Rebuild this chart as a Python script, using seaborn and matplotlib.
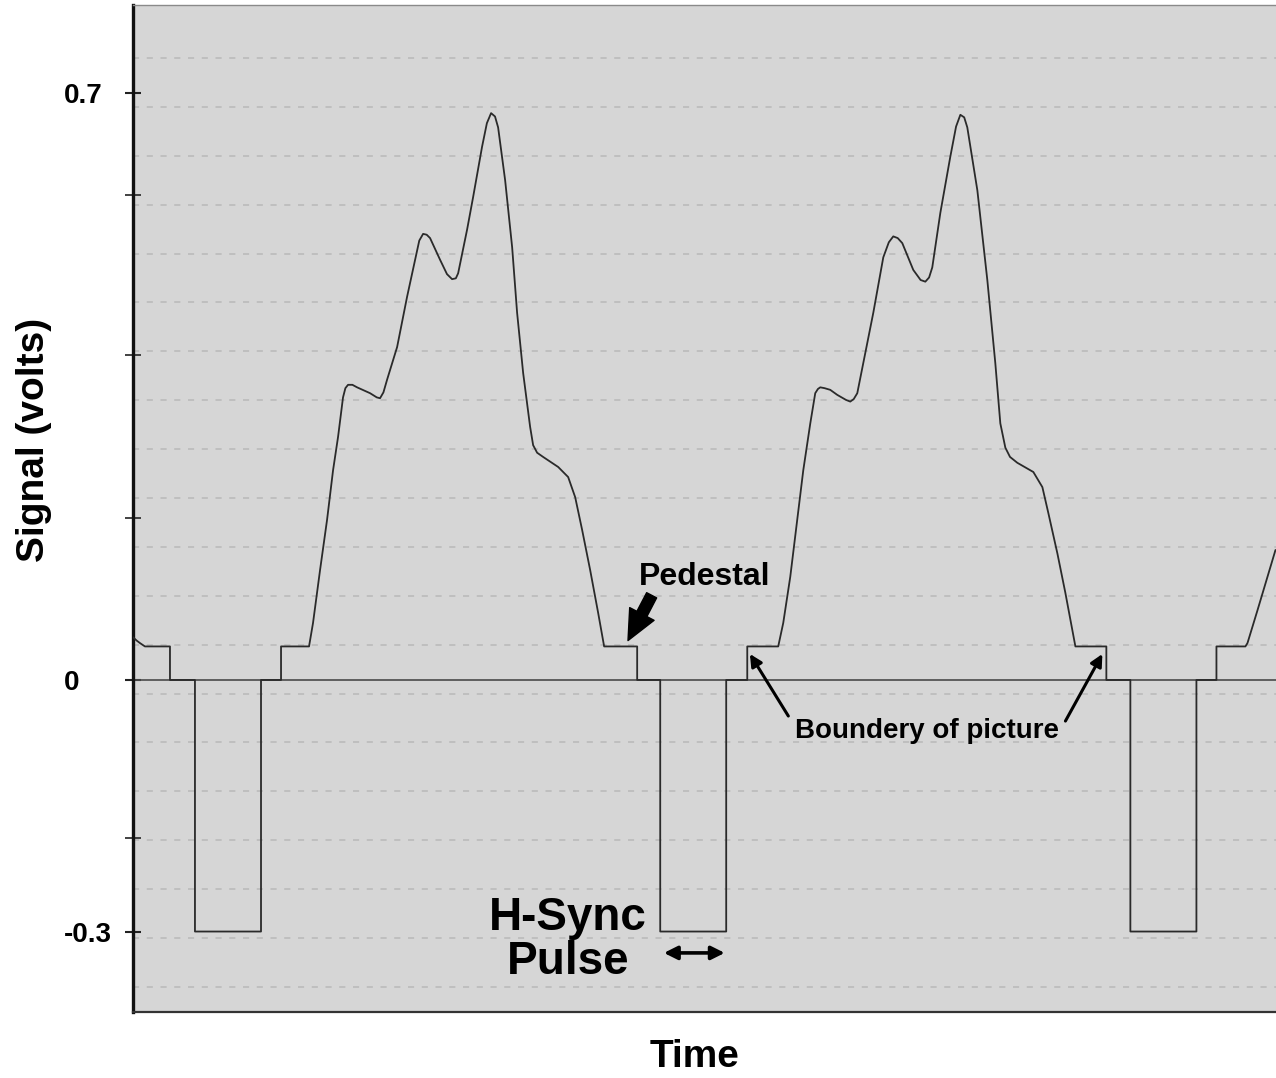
import numpy as np
import pandas as pd
import matplotlib
matplotlib.use("Agg")
import matplotlib.pyplot as plt
import seaborn as sns

# ---- Composite video levels (volts) ----
SYNC_LEVEL = -0.30
BLANK_LEVEL = 0.0
PEDESTAL_LEVEL = 0.04

# ---- Horizontal blanking edges for each line (microseconds) ----
porch_end = [5.01, 68.24, 131.74]          # pedestal steps down to blanking
sync_start = [8.39, 71.36, 134.99]         # falling edge of H-sync
sync_end = [17.33, 80.29, 143.93]          # rising edge of H-sync
back_porch_start = [20.04, 83.14, 146.64]  # blanking steps up to pedestal

# ---- Active picture segments (time in microseconds, signal in volts) ----
pic0_t = [0.0, 0.5, 0.95, 1.62]
pic0_v = [0.051, 0.047, 0.044, 0.040]

pic1_t = [23.83, 24.37, 25.32, 26.27, 27.08, 27.76, 28.43, 28.75, 29.11, 29.70,
          30.33, 32.09, 33.00, 33.44, 33.90, 34.39, 35.75, 37.10, 38.18, 38.75,
          39.27, 39.75, 40.21, 41.57, 42.50, 43.19, 43.70, 44.01, 45.22, 46.04,
          47.25, 47.90, 48.47, 49.00, 49.42, 50.37, 51.32, 51.99, 52.81, 53.75,
          54.16, 54.70, 55.51, 57.55, 58.90, 59.85, 60.79, 61.88, 62.96, 63.77]
pic1_v = [0.040, 0.068, 0.131, 0.191, 0.250, 0.290, 0.337, 0.348, 0.352, 0.352,
          0.349, 0.342, 0.337, 0.336, 0.343, 0.358, 0.397, 0.457, 0.501, 0.524,
          0.532, 0.531, 0.527, 0.501, 0.484, 0.478, 0.479, 0.485, 0.537, 0.576,
          0.636, 0.664, 0.676, 0.672, 0.659, 0.596, 0.516, 0.438, 0.366, 0.302,
          0.280, 0.271, 0.266, 0.254, 0.242, 0.218, 0.179, 0.131, 0.080, 0.040]

pic2_t = [87.33, 88.01, 88.96, 89.91, 90.72, 91.67, 92.34, 92.70, 93.02, 93.60,
          94.37, 95.32, 96.50, 97.08, 97.55, 98.03, 98.84, 100.20, 101.55, 102.30,
          102.90, 103.50, 104.12, 105.61, 106.60, 107.24, 107.75, 108.18, 109.27, 110.62,
          111.40, 111.98, 112.50, 112.92, 114.28, 115.63, 116.71, 117.39, 118.07, 118.70,
          119.69, 121.86, 123.08, 123.89, 125.11, 126.19, 127.55]
pic2_v = [0.040, 0.068, 0.123, 0.191, 0.250, 0.306, 0.342, 0.347, 0.349, 0.348,
          0.346, 0.340, 0.334, 0.332, 0.335, 0.342, 0.378, 0.438, 0.504, 0.522,
          0.529, 0.527, 0.521, 0.489, 0.477, 0.475, 0.480, 0.492, 0.557, 0.624,
          0.660, 0.674, 0.671, 0.659, 0.584, 0.477, 0.378, 0.306, 0.277, 0.266,
          0.259, 0.248, 0.230, 0.199, 0.151, 0.104, 0.040]

pic3_t = [150.56, 150.84, 152.19, 153.54, 154.63]
pic3_v = [0.040, 0.044, 0.083, 0.123, 0.155]

# ---- Axis ticks ----
major_ticks = [0.7, 0.0, -0.3]
major_labels = ["0.7", "0", "-0.3"]
minor_ticks = [0.578, 0.388, 0.193, -0.188]

# Assemble the full trace: picture, front porch, sync, back porch, picture ...
pictures = [(pic0_t, pic0_v), (pic1_t, pic1_v), (pic2_t, pic2_v), (pic3_t, pic3_v)]
t_all, v_all = [], []
for i, (pt, pv) in enumerate(pictures):
    t_all += pt
    v_all += pv
    if i < len(porch_end):
        t_all += [porch_end[i], porch_end[i], sync_start[i], sync_start[i],
                  sync_end[i], sync_end[i], back_porch_start[i], back_porch_start[i]]
        v_all += [PEDESTAL_LEVEL, BLANK_LEVEL, BLANK_LEVEL, SYNC_LEVEL,
                  SYNC_LEVEL, BLANK_LEVEL, BLANK_LEVEL, PEDESTAL_LEVEL]
trace = pd.DataFrame({"time": t_all, "signal": v_all})

sns.set_theme(style="white")
plt.rcParams["font.family"] = ["Liberation Sans", "DejaVu Sans"]
plt.rcParams["text.color"] = "black"
plt.rcParams["axes.labelcolor"] = "black"
plt.rcParams["ytick.color"] = "black"

fig = plt.figure(figsize=(12.76, 10.78), dpi=100)
ax = fig.add_axes([0.1042, 0.0612, 0.8958, 0.9342])
ax.set_facecolor("#d6d6d6")

# faint dashed graph-paper lines
for g in np.arange(0.7417, -0.40, -0.0583):
    ax.axhline(g, color="#b8b8b8", lw=1.1, ls=(0, (4, 5)), zorder=1)

# blanking reference line
ax.axhline(BLANK_LEVEL, color="#4a4a4a", lw=1.2, zorder=2)

line_kw = dict(solid_joinstyle="round", solid_capstyle="round")
sns.lineplot(data=trace, x="time", y="signal", sort=False, estimator=None,
             color="#2a2a2a", lw=1.3, ax=ax, zorder=3, **line_kw)

ax.set_xlim(0, 154.7)
ax.set_ylim(-0.396, 0.805)

ax.set_xticks([])
ax.set_yticks(major_ticks)
ax.set_yticklabels(major_labels)
ax.set_yticks(minor_ticks, minor=True)
ax.tick_params(axis="y", which="major", left=True, direction="inout", length=12,
               width=1.5, color="#222222", pad=44, labelsize=20, labelcolor="black")
ax.tick_params(axis="y", which="minor", left=True, direction="inout", length=11,
               width=1.3, color="#333333")
for lab in ax.get_yticklabels():
    lab.set_fontweight("bold")
    lab.set_horizontalalignment("left")

ax.spines["left"].set_visible(True)
ax.spines["left"].set_color("#111111")
ax.spines["left"].set_linewidth(2.4)
ax.spines["bottom"].set_visible(True)
ax.spines["bottom"].set_color("#333333")
ax.spines["bottom"].set_linewidth(1.6)
ax.spines["top"].set_visible(True)
ax.spines["top"].set_color("#8a8a8a")
ax.spines["top"].set_linewidth(1.0)
ax.spines["right"].set_visible(False)

ax.set_ylabel("Signal (volts)", fontsize=28, fontweight="bold")
ax.yaxis.set_label_coords(-0.071, 0.568)
ax.set_xlabel("Time", fontsize=28, fontweight="bold")
ax.xaxis.set_label_coords(0.4917, -0.027)

# ---- Annotations ----
ax.text(77.4, 0.123, "Pedestal", ha="center", va="center",
        fontsize=23, fontweight="bold")
ax.annotate("", xy=(67.0, 0.047), xytext=(70.2, 0.101),
            arrowprops=dict(arrowstyle="simple,head_length=1.2,head_width=1.1,tail_width=0.45",
                            fc="black", ec="black", mutation_scale=18,
                            shrinkA=0, shrinkB=0))

ax.text(107.5, -0.061, "Boundery of picture", ha="center", va="center",
        fontsize=20, fontweight="bold")
ax.annotate("", xy=(83.5, 0.031), xytext=(88.7, -0.043),
            arrowprops=dict(arrowstyle="-|>", lw=2.2, color="black",
                            mutation_scale=18, shrinkA=0, shrinkB=0))
ax.annotate("", xy=(131.2, 0.031), xytext=(126.2, -0.049),
            arrowprops=dict(arrowstyle="-|>", lw=2.2, color="black",
                            mutation_scale=18, shrinkA=0, shrinkB=0))

ax.text(58.9, -0.310, "H-Sync\nPulse", ha="center", va="center",
        fontsize=33, fontweight="bold", linespacing=1.0)
ax.annotate("", xy=(sync_start[1] + 0.5, -0.3255), xytext=(sync_end[1] - 0.2, -0.3255),
            arrowprops=dict(arrowstyle="<|-|>", lw=2.6, color="black",
                            mutation_scale=20, shrinkA=0, shrinkB=0))

fig.savefig("out.png", dpi=100, facecolor="white")
